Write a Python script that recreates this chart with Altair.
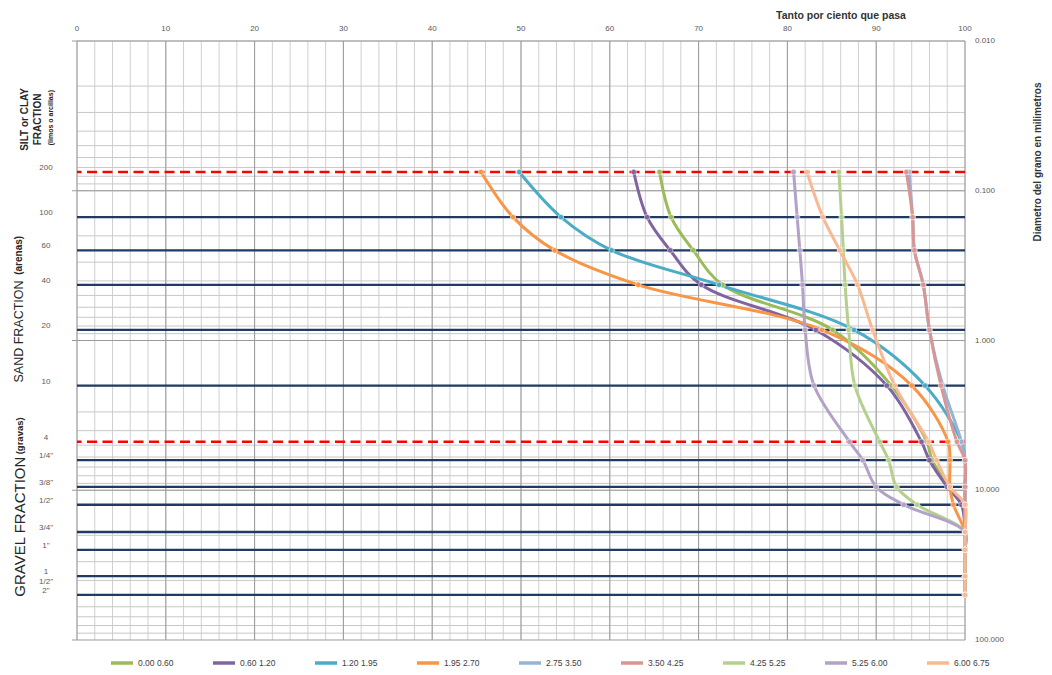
import altair as alt
import pandas as pd

# ---------------- data ----------------
sieve_labels = ["200", "100", "60", "40", "20", "10", "4", '1/4"', '3/8"', '1/2"',
                '3/4"', '1"', '1\n1/2"', '2"']
sieve_mm = [0.075, 0.15, 0.25, 0.425, 0.85, 2.0, 4.75, 6.3, 9.5, 12.5, 19.0, 25.0, 37.5, 50.0]
sieve_kind = ["limite", "tamiz", "tamiz", "tamiz", "tamiz", "tamiz", "limite", "tamiz",
              "tamiz", "tamiz", "tamiz", "tamiz", "tamiz", "tamiz"]

series_names = ["0.00 0.60", "0.60 1.20", "1.20 1.95", "1.95 2.70", "2.75 3.50",
                "3.50 4.25", "4.25 5.25", "5.25 6.00", "6.00 6.75"]
series_colors = ["#9BBB59", "#8064A2", "#4BACC6", "#F79646", "#95B3D7",
                 "#D99694", "#B5D08C", "#B3A2C7", "#F9B990"]

s_000_060 = [65.6, 66.9, 69.4, 72.7, 85.1, 91.7, 95.7, 96.3, 98.2, 99.7, 100, 100, 100, 100]
s_060_120 = [62.7, 64.2, 66.8, 70.3, 83.2, 91.2, 95.1, 96.0, 98.0, 99.6, 100, 100, 100, 100]
s_120_195 = [49.8, 54.5, 60.2, 72.3, 87.5, 95.5, 99.6, 100, 100, 100, 100, 100, 100, 100]
s_195_270 = [45.5, 49.1, 53.8, 63.2, 83.9, 94.0, 98.1, 98.3, 98.3, 98.7, 100, 100, 100, 100]
s_275_350 = [93.7, 94.1, 94.3, 95.3, 96.0, 97.5, 99.6, 100, 100, 100, 100, 100, 100, 100]
s_350_425 = [93.4, 94.1, 94.3, 95.3, 96.0, 97.3, 99.1, 100, 100, 100, 100, 100, 100, 100]
s_425_525 = [85.8, 86.1, 86.3, 86.5, 86.9, 87.6, 90.4, 91.4, 92.3, 94.6, 100, 100, 100, 100]
s_525_600 = [80.7, 81.1, 81.4, 81.7, 82.0, 83.0, 87.0, 88.5, 90.0, 93.1, 100, 100, 100, 100]
s_600_675 = [82.2, 84.0, 85.9, 87.9, 89.6, 92.1, 95.9, 96.8, 98.3, 100, 100, 100, 100, 100]

all_series = [s_000_060, s_060_120, s_120_195, s_195_270, s_275_350,
              s_350_425, s_425_525, s_525_600, s_600_675]

rows = []
for name, vals in zip(series_names, all_series):
    for i, (mm, v) in enumerate(zip(sieve_mm, vals)):
        rows.append({"serie": name, "orden": i, "mm": mm, "pasa": v})
curves = pd.DataFrame(rows)

sieves = pd.DataFrame({"mm": sieve_mm, "tamiz": sieve_labels, "tipo": sieve_kind})

# ---------------- styles ----------------
FONT = "Liberation Sans"
x_scale = alt.Scale(domain=[0, 100], nice=False, zero=False)
y_scale = alt.Scale(type="log", domain=[0.01, 100], reverse=True, nice=False)
color_scale = alt.Scale(domain=series_names, range=series_colors)
one = alt.Data(values=[{"k": 1}])

# ---------------- grid and axis labels (generated by sequences) ----------------
vgrid_minor = alt.Chart(alt.sequence(0, 101, 2, as_="g")).mark_rule(
    color="#D0D0D0", strokeWidth=1
).encode(x=alt.X("g:Q", scale=x_scale, axis=None))

vgrid_major = alt.Chart(alt.sequence(0, 101, 10, as_="g")).mark_rule(
    color="#9A9A9A", strokeWidth=1
).encode(x=alt.X("g:Q", scale=x_scale, axis=None))

x_labels = alt.Chart(alt.sequence(0, 101, 10, as_="g")).mark_text(
    fontSize=8, color="#595959", font=FONT, align="center", baseline="middle"
).encode(x=alt.X("g:Q", scale=x_scale, axis=None), y=alt.value(-12), text="g:Q")

hgrid_minor = alt.Chart(alt.sequence(0, 36, 1, as_="i")).transform_calculate(
    g="(1 + datum.i % 9) * pow(10, floor(datum.i / 9) - 2)"
).mark_rule(color="#C8C8C8", strokeWidth=1).encode(
    y=alt.Y("g:Q", scale=y_scale, axis=None))

decades = alt.Chart(alt.sequence(-2, 3, 1, as_="e")).transform_calculate(
    g="pow(10, datum.e)", lab="format(pow(10, datum.e), '.3f')"
)
hgrid_major = decades.mark_rule(color="#9A9A9A", strokeWidth=1).encode(
    y=alt.Y("g:Q", scale=y_scale, axis=None))
left_ticks = decades.mark_rule(color="#9A9A9A", strokeWidth=1).encode(
    y=alt.Y("g:Q", scale=y_scale, axis=None), x=alt.value(-5), x2=alt.value(0))
y_labels = decades.mark_text(
    fontSize=8, color="#595959", font=FONT, align="left", baseline="middle"
).encode(y=alt.Y("g:Q", scale=y_scale, axis=None), x=alt.value(898), text="lab:N")


def free_text(text, xpx, ypx, size, angle=0):
    return alt.Chart(one).mark_text(
        text=text, angle=angle, align="center", baseline="middle",
        fontSize=size, fontWeight="bold", font=FONT, color="#333333"
    ).encode(x=alt.value(xpx), y=alt.value(ypx))


x_title = free_text("Tanto por ciento que pasa", 764, -25, 10.5)
y_title = free_text("Diametro del grano en milimetros", 961, 121, 10, angle=270)

# ---------------- sieve lines and labels ----------------
base_sieve = alt.Chart(sieves)

navy_rules = base_sieve.transform_filter(alt.datum.tipo == "tamiz").mark_rule(
    color="#1F3A63", strokeWidth=2.3
).encode(y=alt.Y("mm:Q", scale=y_scale, axis=None))

red_rules = base_sieve.transform_filter(alt.datum.tipo == "limite").mark_rule(
    color="#FF0000", strokeWidth=2.5, strokeDash=[10, 5.5]
).encode(y=alt.Y("mm:Q", scale=y_scale, axis=None))

sieve_text = base_sieve.mark_text(
    align="center", baseline="middle", dy=-4, fontSize=8, color="#595959",
    font=FONT, lineBreak="\n"
).encode(
    y=alt.Y("mm:Q", scale=y_scale, axis=None),
    x=alt.value(-31),
    text="tamiz:N",
)


def region_label(text, at_mm, xpx, size, weight="normal"):
    return alt.Chart(one).mark_text(
        text=text, angle=270, align="center", baseline="middle",
        fontSize=size, fontWeight=weight, font=FONT, color="#262626"
    ).encode(x=alt.value(xpx), y=alt.Y(datum=at_mm, scale=y_scale, axis=None))


labels = [
    region_label("SILT or CLAY", 0.0334, -52, 10, "bold"),
    region_label("FRACTION", 0.0334, -39, 10, "bold"),
    region_label("(limos o arcillas)", 0.0325, -26, 7, "bold"),
    region_label("SAND FRACTION", 0.87, -58, 12.5),
    region_label("(arenas)", 0.27, -58, 10, "bold"),
    region_label("GRAVEL FRACTION", 17.5, -57.5, 15),
    region_label("(gravas)", 4.33, -57, 9.5, "bold"),
]

legend = alt.Legend(
    orient="none", legendX=32, legendY=609, direction="horizontal", columns=9,
    title=None, symbolType="stroke", symbolSize=484, symbolStrokeWidth=3.5,
    labelFontSize=8.5, labelColor="#404040", labelFont=FONT,
    columnPadding=32, labelOffset=3,
)

lines = alt.Chart(curves).mark_line(
    interpolate="catmull-rom", strokeWidth=3
).encode(
    x=alt.X("pasa:Q", scale=x_scale, axis=None),
    y=alt.Y("mm:Q", scale=y_scale, axis=None),
    color=alt.Color("serie:N", scale=color_scale, legend=legend),
    order=alt.Order("orden:Q"),
)

points = alt.Chart(curves).mark_circle(
    size=30, opacity=1, stroke="#FFFFFF", strokeWidth=0.9, strokeOpacity=0.55
).encode(
    x=alt.X("pasa:Q", scale=x_scale, axis=None),
    y=alt.Y("mm:Q", scale=y_scale, axis=None),
    color=alt.Color("serie:N", scale=color_scale, legend=None),
)

chart = alt.layer(
    vgrid_minor, hgrid_minor, vgrid_major, hgrid_major, left_ticks,
    x_labels, y_labels, x_title, y_title,
    navy_rules, red_rules, sieve_text, *labels, lines, points
).properties(
    width=888, height=599,
    autosize=alt.AutoSizeParams(type="none"),
    padding={"left": 69, "top": 33, "right": 79, "bottom": 27},
).configure(font=FONT).configure_view(stroke=None)

chart.save("out.html", embed_options={"renderer": "svg", "actions": False})
